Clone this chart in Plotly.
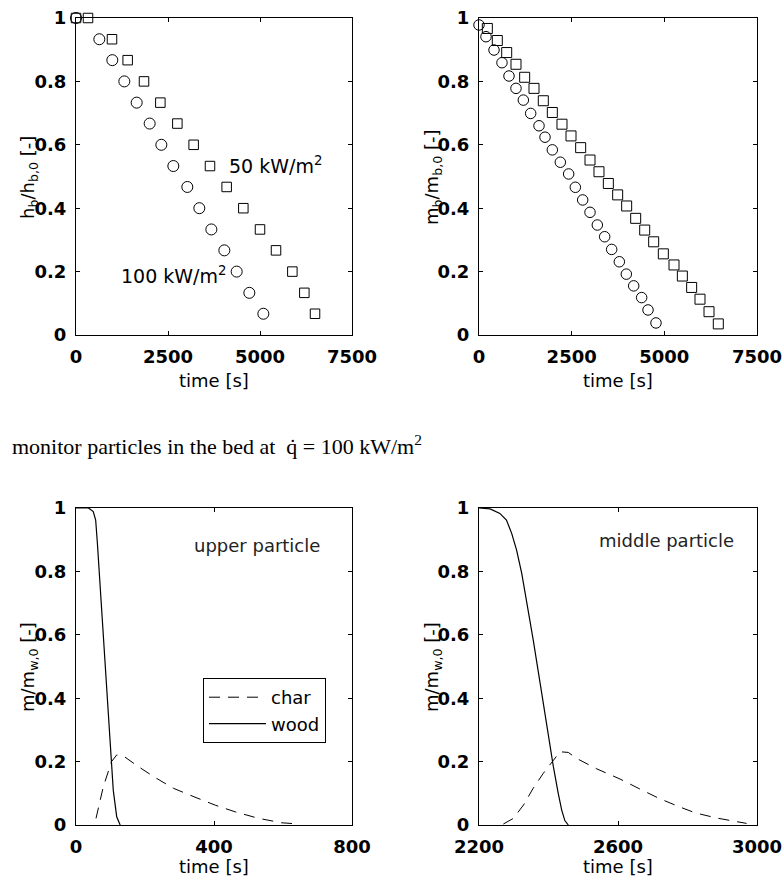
import plotly.graph_objects as go

W, H = 783, 880

# ---------------- data ----------------
# top-left: bed height vs time
tl_t100 = [0, 634, 987, 1313, 1649, 2002, 2319, 2645, 3025, 3351, 3678, 4031, 4366, 4710, 5091]
tl_h100 = [1.0, 0.933, 0.867, 0.8, 0.733, 0.667, 0.6, 0.533, 0.467, 0.4, 0.333, 0.267, 0.2, 0.133, 0.067]
tl_t50 = [0, 326, 978, 1404, 1848, 2292, 2754, 3197, 3641, 4094, 4547, 5000, 5435, 5879, 6205, 6495]
tl_h50 = [1.0, 1.0, 0.933, 0.867, 0.8, 0.733, 0.667, 0.6, 0.533, 0.467, 0.4, 0.333, 0.267, 0.2, 0.133, 0.067]

# top-right: bed mass vs time
tr_t100 = [0, 189, 405, 620, 809, 998, 1196, 1394, 1619, 1781, 1978, 2194, 2419, 2599, 2797,
           2995, 3192, 3390, 3579, 3786, 3975, 4173, 4388, 4560, 4775]
tr_m100 = [0.978, 0.941, 0.899, 0.859, 0.817, 0.778, 0.741, 0.699, 0.660, 0.624, 0.584, 0.545,
           0.508, 0.466, 0.426, 0.387, 0.347, 0.310, 0.270, 0.231, 0.192, 0.155, 0.118, 0.079, 0.038]
tr_t50 = [225, 494, 747, 998, 1232, 1484, 1735, 1978, 2239, 2482, 2743, 2995, 3237, 3489, 3741,
          3984, 4227, 4470, 4712, 4973, 5261, 5486, 5737, 5962, 6205, 6456]
tr_m50 = [0.967, 0.929, 0.891, 0.854, 0.813, 0.778, 0.739, 0.702, 0.665, 0.628, 0.591, 0.552,
          0.515, 0.478, 0.442, 0.407, 0.368, 0.331, 0.294, 0.256, 0.221, 0.186, 0.150, 0.113, 0.0735, 0.035]

# bottom-left: upper particle
bl_t_wood = [0, 36, 50, 57, 62, 70, 79, 89, 99, 108, 118, 128]
bl_wood = [1.0, 1.0, 0.989, 0.962, 0.889, 0.752, 0.584, 0.426, 0.25, 0.11, 0.026, 0.0]
bl_t_char = [58, 79, 103, 118, 137, 181, 229, 282, 342, 405, 463, 529, 596, 649]
bl_char = [0.021, 0.12, 0.2, 0.221, 0.218, 0.184, 0.150, 0.116, 0.089, 0.062, 0.041, 0.021, 0.007, 0.003]

# bottom-right: middle particle
br_t_wood = [2200, 2232, 2260, 2279, 2294, 2308, 2323, 2337, 2356, 2376, 2395, 2414, 2428, 2438, 2447, 2457]
br_wood = [1.0, 0.997, 0.983, 0.962, 0.920, 0.868, 0.794, 0.710, 0.584, 0.447, 0.310, 0.184, 0.100, 0.047, 0.014, 0.0]
br_t_char = [2270, 2299, 2328, 2356, 2385, 2409, 2433, 2457, 2481, 2539, 2606, 2662, 2718, 2775, 2823, 2884, 2940, 2970]
br_char = [0.003, 0.021, 0.063, 0.116, 0.163, 0.197, 0.231, 0.229, 0.210, 0.177, 0.145, 0.114,
           0.084, 0.058, 0.038, 0.022, 0.011, 0.005]

x_ticks_top = [0, 2500, 5000, 7500]
x_ticks_bl = [0, 400, 800]
x_ticks_br = [2200, 2600, 3000]
y_ticks = [0, 0.2, 0.4, 0.6, 0.8, 1]
y_ticklabels = ["0", "0.2", "0.4", "0.6", "0.8", "1"]

# ---------------- helpers ----------------
def px(x):
    return x / W

def py(y):
    return 1 - y / H

BLACK = "#000"
fig = go.Figure()

circ = dict(symbol="circle-open", size=11, color=BLACK, line=dict(width=1, color=BLACK))
sq = dict(symbol="square-open", size=9.5, color=BLACK, line=dict(width=1, color=BLACK))

fig.add_trace(go.Scatter(x=tl_t100, y=tl_h100, mode="markers", marker=circ, xaxis="x", yaxis="y",
                         showlegend=False, cliponaxis=False))
fig.add_trace(go.Scatter(x=tl_t50, y=tl_h50, mode="markers", marker=sq, xaxis="x", yaxis="y",
                         showlegend=False, cliponaxis=False))
fig.add_trace(go.Scatter(x=tr_t100, y=tr_m100, mode="markers", marker=dict(circ, size=10.5), xaxis="x2", yaxis="y2",
                         showlegend=False, cliponaxis=False))
fig.add_trace(go.Scatter(x=tr_t50, y=tr_m50, mode="markers", marker=dict(sq, size=10), xaxis="x2", yaxis="y2",
                         showlegend=False, cliponaxis=False))

dash = "11px,8px"
fig.add_trace(go.Scatter(x=bl_t_char, y=bl_char, mode="lines", name="char",
                         line=dict(color=BLACK, width=1, dash=dash), xaxis="x3", yaxis="y3"))
fig.add_trace(go.Scatter(x=bl_t_wood, y=bl_wood, mode="lines", name="wood",
                         line=dict(color=BLACK, width=1.2), xaxis="x3", yaxis="y3"))
fig.add_trace(go.Scatter(x=br_t_char, y=br_char, mode="lines", name="char", showlegend=False,
                         line=dict(color=BLACK, width=1, dash=dash), xaxis="x4", yaxis="y4"))
fig.add_trace(go.Scatter(x=br_t_wood, y=br_wood, mode="lines", name="wood", showlegend=False,
                         line=dict(color=BLACK, width=1.2), xaxis="x4", yaxis="y4"))

tickfont = dict(family="DejaVu Sans", size=18, color=BLACK, weight="bold")

def xax(dom, rng, ticks, anchor):
    return dict(domain=dom, range=rng, tickvals=ticks, ticktext=[str(t) for t in ticks],
                showline=True, linecolor=BLACK, linewidth=1, mirror="ticks",
                ticks="inside", ticklen=4, tickcolor=BLACK, tickwidth=1,
                showgrid=False, zeroline=False, tickfont=tickfont, anchor=anchor,
                automargin=False, ticklabelstandoff=5, fixedrange=True)

def yax(dom, anchor):
    return dict(domain=dom, range=[0, 1], tickvals=y_ticks, ticktext=y_ticklabels,
                showline=True, linecolor=BLACK, linewidth=1, mirror="ticks",
                ticks="inside", ticklen=4, tickcolor=BLACK, tickwidth=1,
                showgrid=False, zeroline=False, tickfont=tickfont, anchor=anchor,
                automargin=False, ticklabelstandoff=5, fixedrange=True)

xl = [px(76), px(352)]
xr = [px(479), px(757)]
yt = [py(335), py(18)]
yb = [py(825), py(508)]

fig.update_layout(
    width=W, height=H, template="none",
    margin=dict(l=0, r=0, t=0, b=0, autoexpand=False),
    paper_bgcolor="white", plot_bgcolor="white",
    font=dict(family="DejaVu Sans", color=BLACK),
    xaxis=xax(xl, [0, 7500], x_ticks_top, "y"),
    yaxis=yax(yt, "x"),
    xaxis2=xax(xr, [0, 7500], x_ticks_top, "y2"),
    yaxis2=yax(yt, "x2"),
    xaxis3=xax(xl, [0, 800], x_ticks_bl, "y3"),
    yaxis3=yax(yb, "x3"),
    xaxis4=xax(xr, [2200, 3000], x_ticks_br, "y4"),
    yaxis4=yax(yb, "x4"),
    legend=dict(x=px(203), y=py(678), xanchor="left", yanchor="top",
                bordercolor=BLACK, borderwidth=1, bgcolor="white",
                font=dict(family="DejaVu Sans", size=18, color=BLACK),
                itemwidth=57, tracegroupgap=0),
)

anns = []
def ann(text, x, y, size=18, xanchor="center", yanchor="middle", angle=0, family="DejaVu Sans", color=BLACK):
    anns.append(dict(text=text, x=px(x), y=py(y), xref="paper", yref="paper", showarrow=False,
                     xanchor=xanchor, yanchor=yanchor, textangle=angle,
                     font=dict(family=family, size=size, color=color)))

# axis titles
ann("time [s]", 214, 380)
ann("time [s]", 618, 380)
ann("time [s]", 214, 866)
ann("time [s]", 618, 866)
ann("h<sub>b</sub>/h<sub>b,0</sub> [-]", 29, 178, angle=-90)
ann("m<sub>b</sub>/m<sub>b,0</sub> [-]", 433, 178, angle=-90)
ann("m/m<sub>w,0</sub> [-]", 29, 667, angle=-90)
ann("m/m<sub>w,0</sub> [-]", 433, 667, angle=-90)

# in-plot labels
ann("50 kW/m<sup>2</sup>", 227, 165, size=19, xanchor="left")
ann("100 kW/m<sup>2</sup>", 119, 275, size=19, xanchor="left")
ann("upper particle", 257, 545, size=18, color="#222")
ann("middle particle", 666, 540, size=18, color="#222")

# caption between rows
ann("monitor particles in the bed at  q\u0307 = 100 kW/m<sup>2</sup>", 10, 445, size=22,
    xanchor="left", family="Liberation Serif")

fig.update_layout(annotations=anns)
fig.write_html("out.html")
